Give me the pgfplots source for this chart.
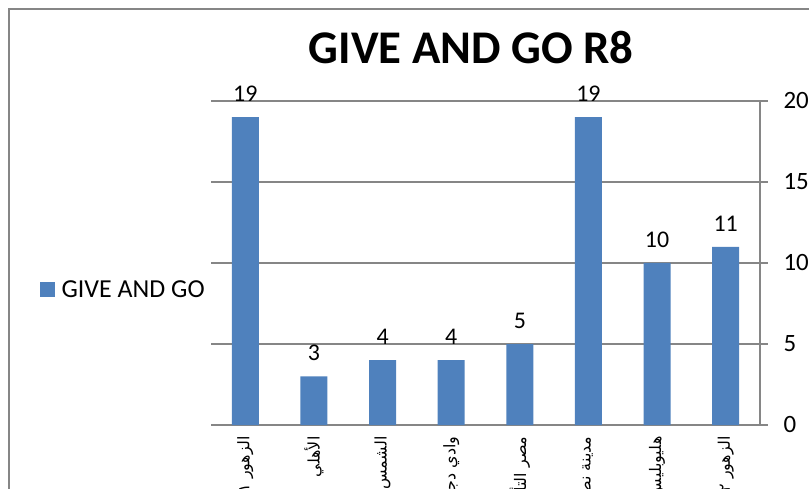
\documentclass[border=0pt]{standalone}
\usepackage{fontspec}
\setmainfont{Carlito}
\newfontfamily\arabicfont[Script=Arabic]{DejaVu Sans}
\TeXXeTstate=1
\usepackage{pgfplots}
\pgfplotsset{compat=1.18}
\definecolor{barblue}{RGB}{79,129,189}
\definecolor{gridgray}{RGB}{134,134,134}

\begin{document}
\begin{tikzpicture}
\useasboundingbox (0,0) rectangle (809bp,489bp);
\clip (0,0) rectangle (809bp,489bp);
% chart area frame (cut at right and bottom like the screenshot)
\draw[gridgray, line width=1.2bp] (9bp,-20bp) -- (9bp,480bp) -- (830bp,480bp);
\begin{axis}[
    at={(211bp,64bp)}, anchor=south west,
    scale only axis, width=549bp, height=324bp,
    ybar, bar width=27bp,
    xmin=-0.5, xmax=7.5, ymin=0, ymax=20,
    axis x line*=bottom, axis y line*=right,
    axis line style={gridgray, line width=1.2bp},
    ytick={0,5,10,15,20},
    ymajorgrids,
    grid style={gridgray, line width=1.2bp},
    ytick style={gridgray, line width=1.2bp},
    tick align=outside, major tick length=8bp,
    xtick style={draw=none},
    /pgf/number format/assume math mode=true,
    yticklabel style={font=\fontsize{25}{25}\selectfont, xshift=12bp},
    xtick=data,
    xticklabels={{\arabicfont\beginR الزهور ١\endR},
                 {\arabicfont\beginR الأهلي\endR},
                 {\arabicfont\beginR الشمس\endR},
                 {\arabicfont\beginR وادي دجلة\endR},
                 {\arabicfont\beginR مصر التأمين\endR},
                 {\arabicfont\beginR مدينة نصر\endR},
                 {\arabicfont\beginR هليوبليس\endR},
                 {\arabicfont\beginR الزهور ٢\endR}},
    xticklabel style={rotate=90, anchor=east, font=\fontsize{16}{16}\selectfont},
    title={GIVE AND GO R8},
    title style={at={(axis description cs:0.474,1.096)}, anchor=base,
                 font=\bfseries\fontsize{47}{47}\selectfont},
    nodes near coords,
    every node near coord/.append style={font=\fontsize{24}{24}\selectfont,
                 black, yshift=12bp},
    legend image code/.code={\fill[barblue] (0bp,-7.5bp) rectangle (15bp,7.5bp);},
    legend style={draw=none, fill=none, at={(axis description cs:-0.318,0.417)},
                  anchor=west, font=\fontsize{26}{26}\selectfont},
    /tikz/every odd column/.append style={column sep=5bp},
]
\addplot[fill=barblue, draw=none] coordinates {
    (0,19) (1,3) (2,4) (3,4) (4,5) (5,19) (6,10) (7,11)
};
\addlegendentry{GIVE AND GO}
\end{axis}
\end{tikzpicture}
\end{document}
